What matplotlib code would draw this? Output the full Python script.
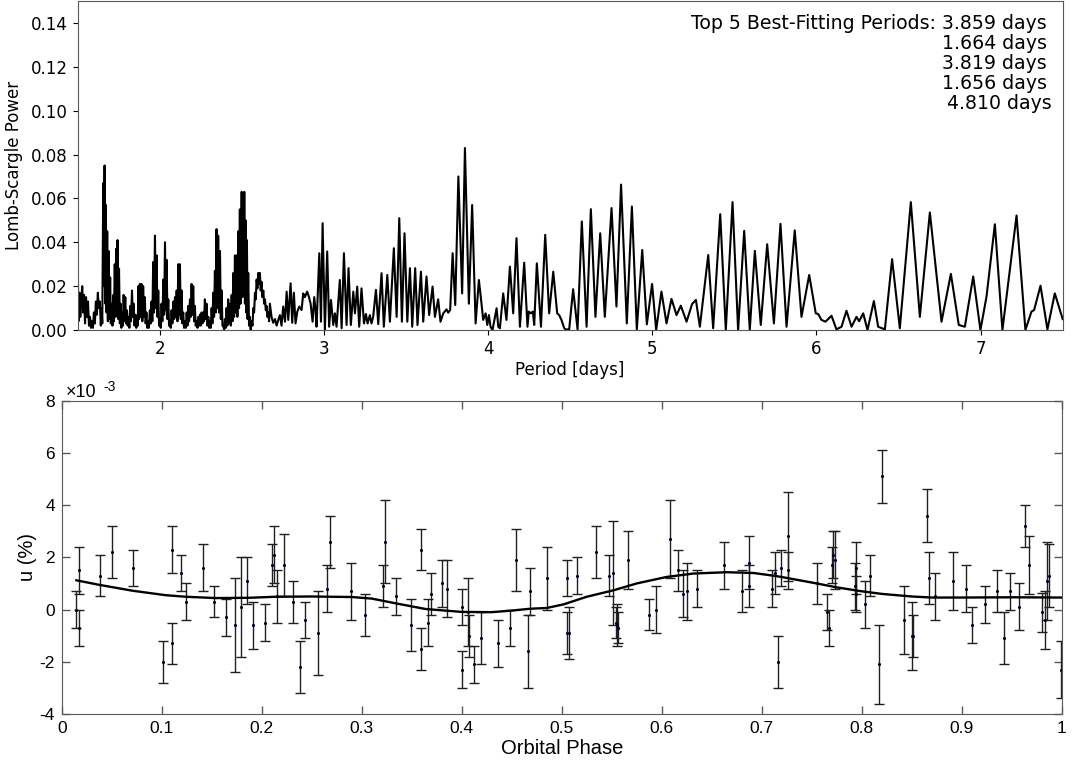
import matplotlib
matplotlib.use('Agg')
import matplotlib.pyplot as plt
import numpy as np
from matplotlib.ticker import FormatStrFormatter

plt.rcParams['axes.unicode_minus'] = False

# Lomb-Scargle periodogram as (period [days], power)
ls_dense = [
    (1.500, 0.034), (1.505, 0.004), (1.511, 0.017), (1.516, 0.006), (1.522, 0.014),
    (1.528, 0.020), (1.533, 0.008), (1.539, 0.016), (1.545, 0.003), (1.551, 0.015),
    (1.557, 0.006), (1.563, 0.013), (1.569, 0.002), (1.575, 0.006), (1.581, 0.001),
    (1.587, 0.004), (1.593, 0.001), (1.599, 0.008), (1.605, 0.003), (1.611, 0.013),
    (1.617, 0.007), (1.623, 0.017), (1.629, 0.010), (1.635, 0.013), (1.641, 0.002),
    (1.646, 0.010), (1.650, 0.003), (1.653, 0.032), (1.656, 0.067), (1.660, 0.020),
    (1.664, 0.075), (1.668, 0.012), (1.672, 0.057), (1.676, 0.008), (1.680, 0.045),
    (1.684, 0.004), (1.689, 0.036), (1.693, 0.005), (1.698, 0.024), (1.702, 0.003),
    (1.707, 0.012), (1.712, 0.002), (1.717, 0.016), (1.721, 0.004), (1.726, 0.030),
    (1.731, 0.006), (1.735, 0.037), (1.739, 0.010), (1.743, 0.041), (1.748, 0.005),
    (1.752, 0.028), (1.757, 0.003), (1.762, 0.012), (1.766, 0.001), (1.771, 0.008),
    (1.776, 0.002), (1.780, 0.016), (1.785, 0.004), (1.790, 0.015), (1.795, 0.003),
    (1.800, 0.009), (1.805, 0.002), (1.810, 0.006), (1.815, 0.001), (1.820, 0.011),
    (1.825, 0.004), (1.831, 0.018), (1.836, 0.006), (1.841, 0.012), (1.846, 0.002),
    (1.852, 0.007), (1.857, 0.001), (1.862, 0.005), (1.866, 0.002), (1.870, 0.020),
    (1.874, 0.005), (1.879, 0.021), (1.884, 0.006), (1.889, 0.021), (1.894, 0.004),
    (1.899, 0.020), (1.904, 0.006), (1.909, 0.015), (1.914, 0.003), (1.919, 0.008),
    (1.924, 0.001), (1.929, 0.004), (1.934, 0.001), (1.940, 0.009), (1.945, 0.003),
    (1.950, 0.013), (1.955, 0.004), (1.960, 0.031), (1.965, 0.008), (1.971, 0.043),
    (1.976, 0.010), (1.981, 0.034), (1.986, 0.006), (1.991, 0.018), (1.996, 0.002),
    (2.001, 0.004), (2.006, 0.001), (2.011, 0.012), (2.016, 0.004), (2.022, 0.023),
    (2.027, 0.007), (2.032, 0.040), (2.037, 0.009), (2.042, 0.032), (2.047, 0.005),
    (2.052, 0.014), (2.057, 0.002), (2.062, 0.004), (2.067, 0.001), (2.072, 0.009),
    (2.077, 0.003), (2.083, 0.013), (2.088, 0.005), (2.093, 0.015), (2.098, 0.006),
    (2.103, 0.018), (2.108, 0.004), (2.113, 0.030), (2.118, 0.007), (2.123, 0.030),
    (2.128, 0.005), (2.133, 0.018), (2.138, 0.003), (2.143, 0.008), (2.148, 0.001),
    (2.154, 0.004), (2.159, 0.001), (2.164, 0.008), (2.169, 0.002), (2.174, 0.011),
    (2.179, 0.004), (2.184, 0.014), (2.189, 0.006), (2.194, 0.021), (2.199, 0.007),
    (2.204, 0.020), (2.209, 0.004), (2.214, 0.011), (2.219, 0.002), (2.225, 0.004),
    (2.230, 0.001), (2.235, 0.006), (2.240, 0.002), (2.245, 0.007), (2.250, 0.002),
    (2.255, 0.008), (2.260, 0.003), (2.265, 0.008), (2.270, 0.004), (2.275, 0.014),
    (2.280, 0.005), (2.285, 0.012), (2.290, 0.002), (2.296, 0.006), (2.301, 0.001),
    (2.306, 0.004), (2.311, 0.001), (2.316, 0.010), (2.321, 0.003), (2.326, 0.017),
    (2.331, 0.006), (2.336, 0.027), (2.341, 0.008), (2.346, 0.046), (2.351, 0.010),
    (2.356, 0.043), (2.361, 0.008), (2.367, 0.036), (2.372, 0.005), (2.377, 0.018),
    (2.382, 0.002), (2.387, 0.002), (2.392, 0.000), (2.397, 0.005), (2.402, 0.001),
    (2.407, 0.010), (2.412, 0.002), (2.417, 0.014), (2.422, 0.003), (2.428, 0.012),
    (2.433, 0.002), (2.438, 0.016), (2.443, 0.004), (2.448, 0.026), (2.453, 0.006),
    (2.458, 0.034), (2.463, 0.008), (2.468, 0.034), (2.473, 0.006), (2.478, 0.045),
    (2.483, 0.010), (2.488, 0.055), (2.493, 0.012), (2.499, 0.063), (2.504, 0.015),
    (2.509, 0.062), (2.512, 0.020), (2.515, 0.063), (2.519, 0.012), (2.523, 0.050),
    (2.527, 0.008), (2.531, 0.041), (2.535, 0.005), (2.539, 0.026), (2.544, 0.002),
    (2.549, 0.006), (2.554, 0.000), (2.560, 0.004), (2.565, 0.002), (2.570, 0.010),
    (2.575, 0.008), (2.580, 0.017), (2.585, 0.014), (2.590, 0.023), (2.595, 0.019),
    (2.600, 0.026), (2.605, 0.021), (2.610, 0.026), (2.615, 0.018), (2.620, 0.022),
    (2.625, 0.015), (2.631, 0.018), (2.636, 0.012), (2.641, 0.014), (2.646, 0.009),
    (2.651, 0.011), (2.656, 0.006), (2.661, 0.008), (2.666, 0.004), (2.671, 0.012),
]

ls_mid = [
    (2.681, 0.0060), (2.691, 0.0033), (2.702, 0.0050), (2.712, 0.0020), (2.722, 0.0046),
    (2.732, 0.0068), (2.742, 0.0020), (2.752, 0.0107), (2.763, 0.0038), (2.773, 0.0175),
    (2.783, 0.0046), (2.797, 0.0213), (2.807, 0.0033), (2.817, 0.0170), (2.827, 0.0030),
    (2.838, 0.0084), (2.850, 0.0107), (2.864, 0.0091), (2.874, 0.0167), (2.884, 0.0150),
    (2.898, 0.0175), (2.909, 0.0150), (2.919, 0.0120), (2.931, 0.0038), (2.941, 0.0150),
    (2.949, 0.0090), (2.955, 0.0015), (2.972, 0.0350), (2.982, 0.0038), (2.992, 0.0487),
    (3.006, 0.0000), (3.020, 0.0358), (3.032, 0.0015), (3.043, 0.0137), (3.057, 0.0023),
    (3.067, 0.0076), (3.077, 0.0015), (3.097, 0.0228), (3.108, 0.0008), (3.122, 0.0350),
    (3.138, 0.0023), (3.150, 0.0282), (3.164, 0.0023), (3.179, 0.0175), (3.189, 0.0076),
    (3.203, 0.0198), (3.215, 0.0015), (3.229, 0.0190), (3.244, 0.0030), (3.256, 0.0073),
    (3.266, 0.0030), (3.280, 0.0068), (3.290, 0.0030), (3.300, 0.0060), (3.317, 0.0183),
    (3.331, 0.0027), (3.351, 0.0259), (3.365, 0.0015), (3.386, 0.0251), (3.402, 0.0038),
    (3.426, 0.0373), (3.443, 0.0060), (3.459, 0.0510), (3.475, 0.0038), (3.491, 0.0441),
    (3.508, 0.0038), (3.524, 0.0282), (3.538, 0.0015), (3.556, 0.0282), (3.570, 0.0023),
    (3.591, 0.0266), (3.605, 0.0038), (3.625, 0.0244), (3.641, 0.0068), (3.662, 0.0198),
    (3.676, 0.0060), (3.696, 0.0140), (3.710, 0.0038), (3.727, 0.0076), (3.747, 0.0094),
    (3.757, 0.0079), (3.769, 0.0091), (3.784, 0.0350), (3.800, 0.0114), (3.819, 0.0700),
    (3.842, 0.0167), (3.859, 0.0830), (3.883, 0.0120), (3.903, 0.0570), (3.924, 0.0030),
    (3.944, 0.0228), (3.960, 0.0120), (3.970, 0.0046), (3.985, 0.0076), (3.995, 0.0023),
    (4.005, 0.0068), (4.015, 0.0015), (4.027, 0.0000), (4.052, 0.0099), (4.062, 0.0015),
    (4.072, 0.0008), (4.092, 0.0167), (4.112, 0.0046), (4.133, 0.0289), (4.153, 0.0076),
    (4.173, 0.0419), (4.194, 0.0015), (4.220, 0.0307), (4.240, 0.0015), (4.248, 0.0084),
    (4.261, 0.0076), (4.273, 0.0084), (4.281, 0.0023), (4.297, 0.0304), (4.322, 0.0015),
    (4.348, 0.0434), (4.372, 0.0076), (4.397, 0.0266), (4.421, 0.0076), (4.433, 0.0068),
    (4.447, 0.0046), (4.464, 0.0008), (4.472, 0.0003), (4.494, 0.0003), (4.518, 0.0186),
    (4.545, 0.0003), (4.571, 0.0495), (4.600, 0.0015), (4.626, 0.0551), (4.654, 0.0060),
    (4.683, 0.0441), (4.711, 0.0060), (4.752, 0.0556), (4.782, 0.0107), (4.810, 0.0663),
    (4.845, 0.0030), (4.876, 0.0563), (4.906, 0.0003), (4.939, 0.0365), (4.967, 0.0026),
    (4.999, 0.0210), (5.024, 0.0000), (5.056, 0.0175),
]

ls_long = [
    (5.087, 0.0030), (5.117, 0.0142), (5.148, 0.0068), (5.174, 0.0111), (5.209, 0.0038),
    (5.243, 0.0119), (5.266, 0.0137), (5.290, 0.0015), (5.341, 0.0342), (5.371, 0.0008),
    (5.414, 0.0528), (5.448, 0.0000), (5.489, 0.0583), (5.523, 0.0000), (5.560, 0.0452),
    (5.594, 0.0000), (5.625, 0.0361), (5.661, 0.0023), (5.700, 0.0391), (5.741, 0.0030),
    (5.781, 0.0484), (5.818, 0.0015), (5.868, 0.0454), (5.909, 0.0060), (5.956, 0.0251),
    (5.996, 0.0076), (6.011, 0.0073), (6.031, 0.0046), (6.055, 0.0038), (6.092, 0.0065),
    (6.122, 0.0003), (6.153, 0.0015), (6.183, 0.0088), (6.214, 0.0015), (6.244, 0.0060),
    (6.260, 0.0040), (6.285, 0.0076), (6.311, 0.0000), (6.350, 0.0132), (6.376, 0.0015),
    (6.417, 0.0003), (6.461, 0.0323), (6.508, 0.0008), (6.575, 0.0583), (6.630, 0.0060),
    (6.691, 0.0536), (6.762, 0.0038), (6.819, 0.0256), (6.867, 0.0023), (6.904, 0.0015),
    (6.955, 0.0244), (6.999, 0.0000), (7.036, 0.0152), (7.087, 0.0482), (7.133, 0.0000),
    (7.219, 0.0522), (7.273, 0.0000), (7.310, 0.0084), (7.326, 0.0091), (7.365, 0.0202),
    (7.407, 0.0003), (7.452, 0.0167), (7.500, 0.0050),
]

top_periods = [3.859, 1.664, 3.819, 1.656, 4.810]

# phase-folded u data (units of 1e-3 %)
phase = [0.0147, 0.0173, 0.0173, 0.038, 0.050, 0.071, 0.1017, 0.110, 0.110, 0.119,
         0.1247, 0.141, 0.152, 0.164, 0.173, 0.179, 0.185, 0.191, 0.2033, 0.210,
         0.2127, 0.2157, 0.2227, 0.2317, 0.238, 0.243, 0.256, 0.2657, 0.2683, 0.289,
         0.303, 0.3213, 0.3233, 0.3347, 0.3497, 0.359, 0.359, 0.3667, 0.3693, 0.380,
         0.3853, 0.400, 0.400, 0.4063, 0.4073, 0.4123, 0.4197, 0.4363, 0.4483, 0.454,
         0.4663, 0.468, 0.485, 0.5057, 0.5057, 0.507, 0.5157, 0.5343, 0.547, 0.551,
         0.555, 0.556, 0.5547, 0.5667, 0.5873, 0.5943, 0.6083, 0.616, 0.6217, 0.625,
         0.6353, 0.6627, 0.6807, 0.687, 0.6877, 0.7103, 0.7137, 0.716, 0.7197, 0.726,
         0.7267, 0.755, 0.765, 0.7677, 0.770, 0.771, 0.7733, 0.7937, 0.7943, 0.794,
         0.8033, 0.8083, 0.8177, 0.8207, 0.8427, 0.850, 0.8517, 0.8657, 0.8677, 0.8733,
         0.8913, 0.9043, 0.9103, 0.9237, 0.935, 0.9427, 0.948, 0.957, 0.9637, 0.9673,
         0.9807, 0.9833, 0.985, 0.987, 0.999]
u_val = [0.0, 1.5, -0.7, 1.3, 2.2, 1.6, -2.0, 2.3, -1.3, 1.4,
         0.3, 1.6, 0.3, -0.3, -0.6, 0.1, 1.1, -0.6, -0.5, 1.7,
         2.1, 0.5, 1.7, 0.3, -2.2, -0.4, -0.9, 0.8, 2.6, 0.7,
         -0.2, 0.9, 2.6, 0.5, -0.6, 2.3, -1.5, -0.5, 0.6, 1.0,
         0.8, 0.1, -2.3, -0.1, -1.0, -2.1, -1.1, -1.3, -0.7, 1.9,
         -1.6, 0.7, 1.2, 1.2, -0.9, -0.9, 1.3, 2.2, 1.3, 1.4,
         -0.6, -0.7, -0.5, 1.9, -0.2, 0.0, 2.7, 1.5, 0.6, 0.7,
         0.8, 1.7, 0.7, 1.8, 0.9, 0.8, 1.4, -2.0, 1.6, 2.8,
         1.5, 1.0, -0.1, -0.7, 1.7, 2.1, 1.9, 0.9, 1.6, 0.6,
         0.2, 1.3, -2.1, 5.1, -0.4, -1.0, -1.0, 3.6, 1.2, 0.5,
         1.1, 0.8, -0.6, 0.2, 0.7, -1.1, 0.7, 0.1, 3.2, 1.7,
         -0.1, -0.4, 1.1, 1.3, -2.3]
u_err = [0.7, 0.9, 0.7, 0.8, 1.0, 0.7, 0.8, 0.9, 0.8, 0.7,
         0.7, 0.9, 0.6, 0.7, 1.8, 1.9, 0.9, 0.9, 0.7, 0.8,
         1.1, 1.0, 1.2, 0.8, 1.0, 0.7, 1.6, 0.9, 1.0, 1.1,
         0.8, 0.8, 1.6, 0.7, 1.0, 0.8, 0.8, 0.9, 0.8, 0.9,
         1.1, 0.7, 0.7, 1.3, 0.8, 0.7, 1.0, 0.9, 0.7, 1.2,
         1.4, 0.9, 1.2, 0.7, 0.8, 1.0, 0.7, 1.0, 0.8, 2.0,
         0.8, 0.6, 0.6, 1.1, 0.6, 0.9, 1.5, 0.8, 0.9, 1.1,
         0.7, 0.9, 0.8, 1.0, 0.8, 0.7, 0.8, 1.0, 0.7, 1.7,
         0.7, 0.8, 0.7, 0.7, 0.7, 0.9, 1.1, 0.9, 1.0, 0.7,
         0.9, 0.8, 1.5, 1.0, 1.3, 1.3, 0.8, 1.0, 1.0, 0.9,
         1.1, 0.9, 0.7, 0.7, 0.8, 1.0, 0.7, 0.9, 0.8, 1.1,
         0.75, 1.1, 1.5, 1.2, 1.1]

# best-fit model curve
fit_phase = [0.0147, 0.037, 0.071, 0.104, 0.124, 0.154, 0.187, 0.214, 0.25, 0.29,
             0.31, 0.331, 0.364, 0.40, 0.43, 0.45, 0.468, 0.485, 0.502, 0.525,
             0.552, 0.575, 0.605, 0.632, 0.665, 0.692, 0.715, 0.738, 0.755, 0.775,
             0.80, 0.82, 0.85, 0.87, 0.90, 0.95, 1.0]
fit_u = [1.12, 0.95, 0.72, 0.55, 0.49, 0.44, 0.45, 0.49, 0.50, 0.48,
         0.42, 0.26, 0.02, -0.09, -0.10, -0.04, 0.03, 0.06, 0.20, 0.49,
         0.74, 1.00, 1.25, 1.38, 1.43, 1.40, 1.28, 1.12, 1.00, 0.85,
         0.70, 0.60, 0.50, 0.46, 0.46, 0.47, 0.46]

fig = plt.figure(figsize=(10.77, 7.65), dpi=100)

# --- periodogram ---
ax1 = fig.add_axes([0.0721, 0.5686, 0.9146, 0.4301])
pts = ls_dense + ls_mid + ls_long
ax1.plot([p for p, _ in pts], [v for _, v in pts], color='k', lw=1.5,
         solid_joinstyle='round')
ax1.set_xlim(1.5, 7.5)
ax1.set_ylim(0, 0.15)
ax1.set_yticks(np.arange(0, 0.141, 0.02))
ax1.yaxis.set_major_formatter(FormatStrFormatter('%.2f'))
ax1.set_xticks([2, 3, 4, 5, 6, 7])
ax1.tick_params(labelsize=12)
ax1.set_xlabel('Period [days]', fontsize=12, labelpad=2)
ax1.set_ylabel('Lomb-Scargle Power', fontsize=12, labelpad=6)
for sp in ax1.spines.values():
    sp.set_color('0.35')

lines = ['Top 5 Best-Fitting Periods: %.3f days' % top_periods[0]]
lines += ['%.3f days' % p for p in top_periods[1:]]
for i, s in enumerate(lines):
    xr = 1046.7 if i < 4 else 1052.0
    fig.text(xr / 1077, 1 - (23.3 + 20 * i) / 765, s, ha='right', va='center',
             fontsize=13.6)

# --- phase-folded data ---
ax2 = fig.add_axes([0.0573, 0.0667, 0.9285, 0.4095])
ax2.errorbar(phase, u_val, yerr=u_err, fmt='.', color='#000033', markersize=2.5,
             ecolor='0.12', elinewidth=1.0, capsize=3.5, capthick=1.0, zorder=2)
ax2.plot(fit_phase, fit_u, color='k', lw=1.7, zorder=3)
ax2.set_xlim(0, 1)
ax2.set_ylim(-4, 8)
ax2.set_xticks(np.arange(0, 1.01, 0.1))
ax2.set_yticks(np.arange(-4, 8.1, 2))
ax2.xaxis.set_major_formatter(FormatStrFormatter('%g'))
ax2.yaxis.set_major_formatter(FormatStrFormatter('%g'))
ax2.tick_params(direction='in', top=True, right=True, length=6, width=1,
                color='0.35', labelsize=12.5, pad=5)
for lab in ax2.get_xticklabels() + ax2.get_yticklabels():
    lab.set_fontfamily('Liberation Sans')
for sp in ax2.spines.values():
    sp.set_color('0.35')
ax2.set_xlabel('Orbital Phase', fontsize=14.5, family='Liberation Sans', labelpad=2)
ax2.set_ylabel('u (%)', fontsize=14.5, family='Liberation Sans', labelpad=2)
ax2.text(0.004, 1.0, '\u00d710', transform=ax2.transAxes, ha='left', va='bottom',
         fontsize=13, family='Liberation Sans')
ax2.text(0.042, 1.02, '-3', transform=ax2.transAxes, ha='left', va='bottom',
         fontsize=10, family='Liberation Sans')

fig.savefig('out.png', dpi=100)
